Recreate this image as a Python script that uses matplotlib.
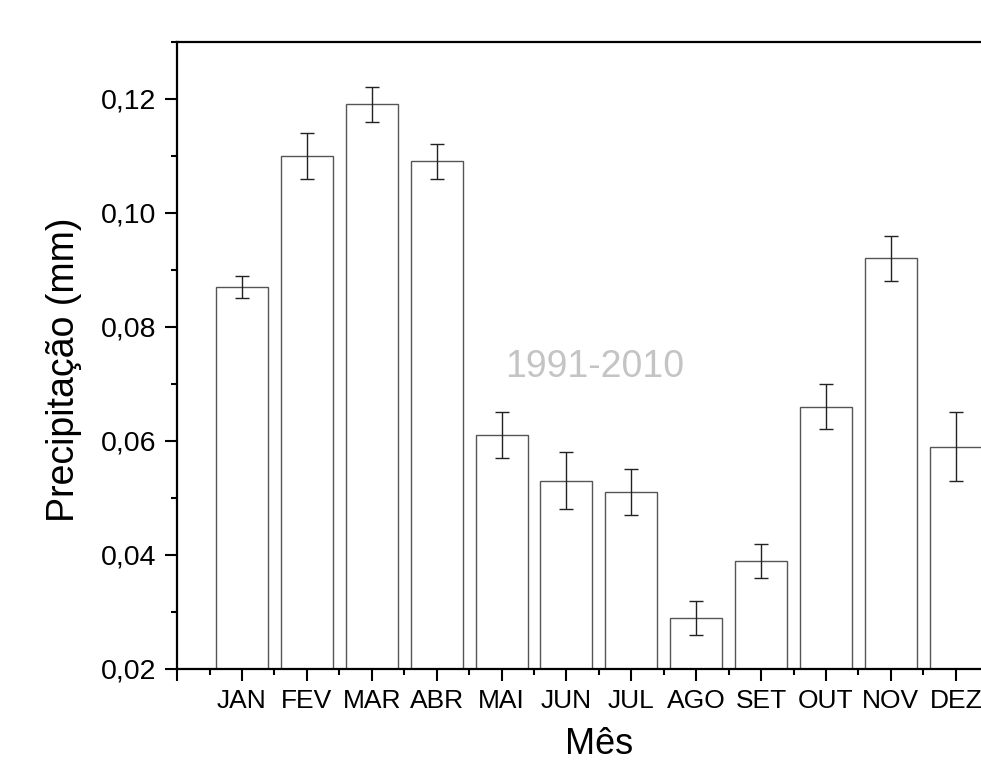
import matplotlib
matplotlib.use("Agg")
import matplotlib.pyplot as plt
from matplotlib.ticker import MultipleLocator, FixedLocator, FixedFormatter

plt.rcParams['font.family'] = ['Liberation Sans', 'DejaVu Sans']

months = ["JAN", "FEV", "MAR", "ABR", "MAI", "JUN", "JUL", "AGO", "SET", "OUT", "NOV", "DEZ"]
precip = [0.087, 0.110, 0.119, 0.109, 0.061, 0.053, 0.051, 0.029, 0.039, 0.066, 0.092, 0.059]
errors = [0.002, 0.004, 0.003, 0.003, 0.004, 0.005, 0.004, 0.003, 0.003, 0.004, 0.004, 0.006]
y_ticks = [0.02, 0.04, 0.06, 0.08, 0.10, 0.12]
y_tick_labels = ["0,02", "0,04", "0,06", "0,08", "0,10", "0,12"]
period_label = "1991-2010"

fig = plt.figure(figsize=(9.81, 7.65), dpi=100)
ax = fig.add_axes([0.1805, 0.1255, 0.860, 0.820])

x = list(range(1, len(months) + 1))
ax.bar(x, [p - 0.02 for p in precip], bottom=0.02, width=0.8,
       color='white', edgecolor='#555555', linewidth=1.0, zorder=2)
ax.errorbar(x, precip, yerr=errors, fmt='none', ecolor='#222222',
            elinewidth=1.0, capsize=4.7, capthick=1.0, zorder=3)

ax.set_xlim(0, 13)
ax.set_ylim(0.02, 0.13)

ax.xaxis.set_major_locator(FixedLocator([0] + x))
ax.xaxis.set_major_formatter(FixedFormatter([""] + months))
ax.xaxis.set_minor_locator(FixedLocator([i + 0.5 for i in range(0, 13)]))
ax.yaxis.set_major_locator(FixedLocator(y_ticks))
ax.yaxis.set_major_formatter(FixedFormatter(y_tick_labels))
ax.yaxis.set_minor_locator(MultipleLocator(0.01))

ax.tick_params(axis='both', which='major', direction='out', length=8.5, width=1.5, pad=6)
ax.tick_params(axis='both', which='minor', direction='out', length=4.3, width=1.5)
ax.tick_params(axis='x', which='major', labelsize=19)
ax.tick_params(axis='y', which='major', labelsize=20.5, pad=6.5)
ax.tick_params(top=False, right=False, which='both')

for s in ax.spines.values():
    s.set_linewidth(1.6)
    s.set_color('black')

ax.set_ylabel("Precipitação (mm)", fontsize=27, va='center')
ax.yaxis.set_label_coords(-0.134, 0.477)
ax.set_xlabel("Mês", fontsize=26, va='baseline')
ax.xaxis.set_label_coords(0.5, -0.1355)

ax.text(6.44, 0.073, period_label, fontsize=27, color='#c4c4c4',
        ha='center', va='center', zorder=1)

fig.savefig("out.png", dpi=100)
